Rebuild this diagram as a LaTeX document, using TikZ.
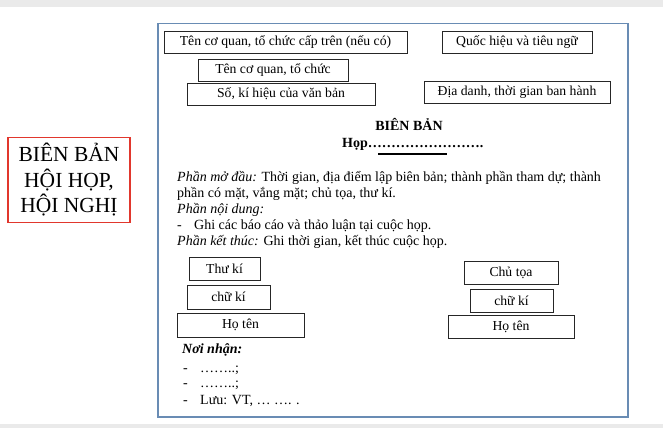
\documentclass[tikz,border=0pt]{standalone}
\usepackage{fontspec}
\setmainfont{Liberation Serif}
\definecolor{framecol}{RGB}{105,140,180}
\definecolor{stripcol}{RGB}{234,234,234}
\definecolor{redcol}{RGB}{225,55,45}
\begin{document}
\begin{tikzpicture}[x=1pt,y=-1pt,
  tbox/.style={draw=black!85,line width=0.8pt,inner sep=0pt,align=center,
    font=\fontsize{13.7}{16}\selectfont},
  bodytxt/.style={anchor=base west,inner sep=0pt,font=\fontsize{14}{16}\selectfont},
  bigtxt/.style={anchor=base,inner sep=0pt,font=\fontsize{21.5}{26}\selectfont}]
\useasboundingbox (0,0) rectangle (663,428);
\fill[stripcol] (0,0) rectangle (663,7);
\fill[stripcol] (0,424) rectangle (663,428);
% page frame
\node[draw=framecol,line width=1.5pt,inner sep=0pt,minimum width=470,minimum height=393,anchor=north west] (page) at (157,23) {};
% left red box
\node[draw=redcol,line width=1.3pt,inner sep=0pt,minimum width=122,minimum height=85] (title) at (69,180) {};
\node[bigtxt] (t1) at (69,161) {BIÊN BẢN};
\node[bigtxt] (t2) at (69,187) {HỘI HỌP,};
\node[bigtxt] (t3) at (69,212.5) {HỘI NGHỊ};
% header boxes
\node[tbox,minimum width=243,minimum height=22] (cqcap) at (285.5,42) {Tên cơ quan, tổ chức cấp trên (nếu có)};
\node[tbox,minimum width=150,minimum height=22] (qh) at (517,42) {Quốc hiệu và tiêu ngữ};
\node[tbox,minimum width=150,minimum height=22] (cq) at (273,70) {Tên cơ quan, tổ chức};
\node[tbox,minimum width=188,minimum height=22] (so) at (281,94) {Số, kí hiệu của văn bản};
\node[tbox,minimum width=186,minimum height=22] (dd) at (517,92) {Địa danh, thời gian ban hành};
% title
\node[anchor=base,inner sep=0pt,font=\fontsize{14}{16}\selectfont\bfseries] (bb) at (409,130) {BIÊN BẢN};
\node[anchor=base west,inner sep=0pt,font=\fontsize{14}{16}\selectfont\bfseries] (hop) at (342,147) {Họp…………………….};
\coordinate (ulA) at (378,154);
\coordinate (ulB) at (447,154);
\draw[line width=1.5pt] (ulA) -- (ulB);
% body
\node[bodytxt] (l1) at (177,181) {\textit{Phần mở đầu:} Thời gian, địa điểm lập biên bản; thành phần tham dự; thành};
\node[bodytxt] (l2) at (177,197) {phần có mặt, vắng mặt; chủ tọa, thư kí.};
\node[bodytxt] (l3) at (177,213) {\textit{Phần nội dung:}};
\node[bodytxt] (l4a) at (177,229) {-};
\node[bodytxt] (l4) at (194,229) {Ghi các báo cáo và thảo luận tại cuộc họp.};
\node[bodytxt] (l5) at (177,245) {\textit{Phần kết thúc:} Ghi thời gian, kết thúc cuộc họp.};
% signature boxes
\node[tbox,minimum width=71,minimum height=23] (tk) at (224.5,268.5) {Thư kí};
\node[tbox,minimum width=83,minimum height=24] (ckL) at (228.5,297) {chữ kí};
\node[tbox,minimum width=127,minimum height=24] (htL) at (240.5,325) {Họ tên};
\node[tbox,minimum width=94,minimum height=23] (ct) at (511,272.5) {Chủ tọa};
\node[tbox,minimum width=83,minimum height=23] (ckR) at (511.5,300.5) {chữ kí};
\node[tbox,minimum width=126,minimum height=23] (htR) at (511,326.5) {Họ tên};
% recipients
\node[bodytxt,font=\fontsize{14}{16}\selectfont\bfseries\itshape] (nn) at (182,353) {Nơi nhận:};
\node[bodytxt] (d1) at (183,372) {-};
\node[bodytxt] (r1) at (200,372) {……..;};
\node[bodytxt] (d2) at (183,387) {-};
\node[bodytxt] (r2) at (200,387) {……..;};
\node[bodytxt] (d3) at (183,404) {-};
\node[bodytxt] (r3) at (200,404) {Lưu: VT, … …. .};
\end{tikzpicture}
\end{document}
